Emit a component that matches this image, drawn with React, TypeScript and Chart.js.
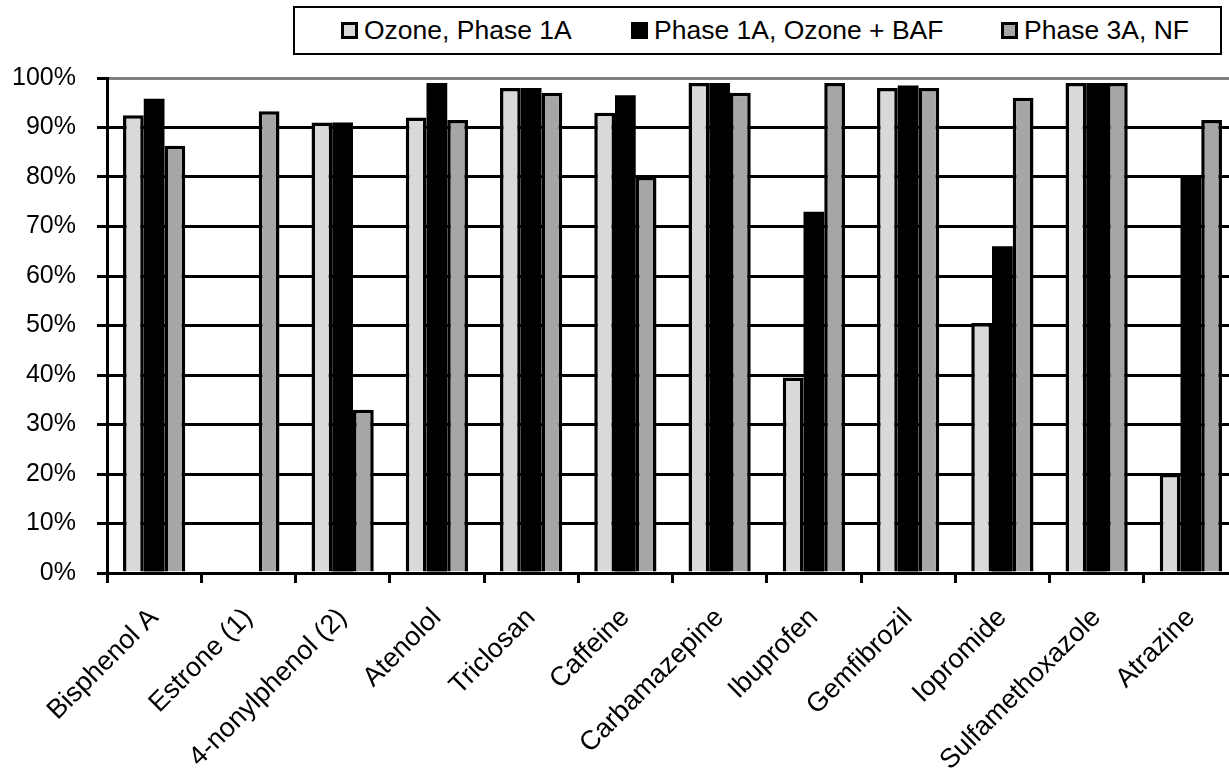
import React, { useEffect, useRef } from "react";
import { Chart, registerables } from "chart.js";

Chart.register(...registerables);

const categories = [
  "Bisphenol A",
  "Estrone (1)",
  "4-nonylphenol (2)",
  "Atenolol",
  "Triclosan",
  "Caffeine",
  "Carbamazepine",
  "Ibuprofen",
  "Gemfibrozil",
  "Iopromide",
  "Sulfamethoxazole",
  "Atrazine",
];

const seriesNames = ["Ozone, Phase 1A", "Phase 1A, Ozone + BAF", "Phase 3A, NF"];
const seriesColors = ["#d9d9d9", "#000000", "#a6a6a6"];

const ozonePhase1A: (number | null)[] = [92.5, null, 91, 92, 98, 93, 99, 39.5, 98, 50.5, 99, 20];
const ozoneBAF: (number | null)[] = [95.8, null, 91, 99, 98, 96.5, 99, 73, 98.5, 66, 99, 80];
const phase3ANF: (number | null)[] = [86.3, 93.3, 33, 91.5, 97, 80, 97, 99, 98, 96, 99, 91.5];

const yTicks = [0, 10, 20, 30, 40, 50, 60, 70, 80, 90, 100];

const FONT = "'Liberation Sans', Arial, Helvetica, sans-serif";
const CANVAS_W = 1238;
const CANVAS_H = 774;

const legendLeft = [341, 631, 1001];

export default function App() {
  const ref = useRef<HTMLCanvasElement | null>(null);

  useEffect(() => {
    if (!ref.current) return;
    const data = [ozonePhase1A, ozoneBAF, phase3ANF];
    const chart = new Chart(ref.current, {
      type: "bar",
      data: {
        labels: categories,
        datasets: seriesNames.map((name, i) => ({
          label: name,
          data: data[i],
          backgroundColor: seriesColors[i],
          borderColor: "#000000",
          borderWidth: i === 1 ? 0 : 3.5,
          categoryPercentage: 0.66,
          barPercentage: 1,
        })),
      },
      options: {
        responsive: false,
        animation: false,
        layout: { padding: { top: 78, right: 0, left: 0, bottom: 0 } },
        plugins: {
          legend: { display: false },
          tooltip: { enabled: false },
        },
        scales: {
          x: {
            grid: {
              offset: true,
              drawOnChartArea: false,
              drawTicks: true,
              tickLength: 10,
              color: "#000",
              lineWidth: 3,
            },
            border: { color: "#000", width: 3 },
            ticks: {
              minRotation: 45,
              maxRotation: 45,
              autoSkip: false,
              color: "#000",
              font: { family: FONT, size: 27 },
              padding: 19,
            },
            afterFit: (scale: any) => {
              scale.height = 201;
            },
          },
          y: {
            min: 0,
            max: 100,
            afterBuildTicks: (scale: any) => {
              scale.ticks = yTicks.map((v) => ({ value: v }));
            },
            grid: {
              color: (ctx: any) => (ctx.tick && ctx.tick.value === 100 ? "#808080" : "#000"),
              tickColor: "#000",
              lineWidth: 3,
              tickLength: 10,
            },
            border: { color: "#000", width: 3 },
            ticks: {
              color: "#000",
              font: { family: FONT, size: 25 },
              padding: 21,
              callback: (v: any) => v + "%",
            },
            afterFit: (scale: any) => {
              scale.width = 107;
            },
          },
        },
      },
    });
    return () => chart.destroy();
  }, []);

  return (
    <div style={{ position: "fixed", left: 0, top: 0, width: CANVAS_W, height: CANVAS_H, background: "#fff" }}>
      <canvas ref={ref} width={CANVAS_W} height={CANVAS_H} style={{ width: CANVAS_W, height: CANVAS_H, display: "block" }} />
      <div
        style={{
          position: "absolute",
          left: 293,
          top: 6,
          width: 929,
          height: 49,
          boxSizing: "border-box",
          border: "2px solid #000",
          background: "#fff",
        }}
      />
      {seriesNames.map((n, i) => (
        <div
          key={n}
          style={{
            position: "absolute",
            left: legendLeft[i],
            top: 6,
            height: 49,
            display: "flex",
            alignItems: "center",
            fontFamily: FONT,
            fontSize: 26.5,
            color: "#000",
            whiteSpace: "nowrap",
          }}
        >
          <span
            style={{
              display: "inline-block",
              width: 11,
              height: 11,
              background: seriesColors[i],
              border: "3px solid #000",
              marginRight: 6,
            }}
          />
          <span>{n}</span>
        </div>
      ))}
    </div>
  );
}
